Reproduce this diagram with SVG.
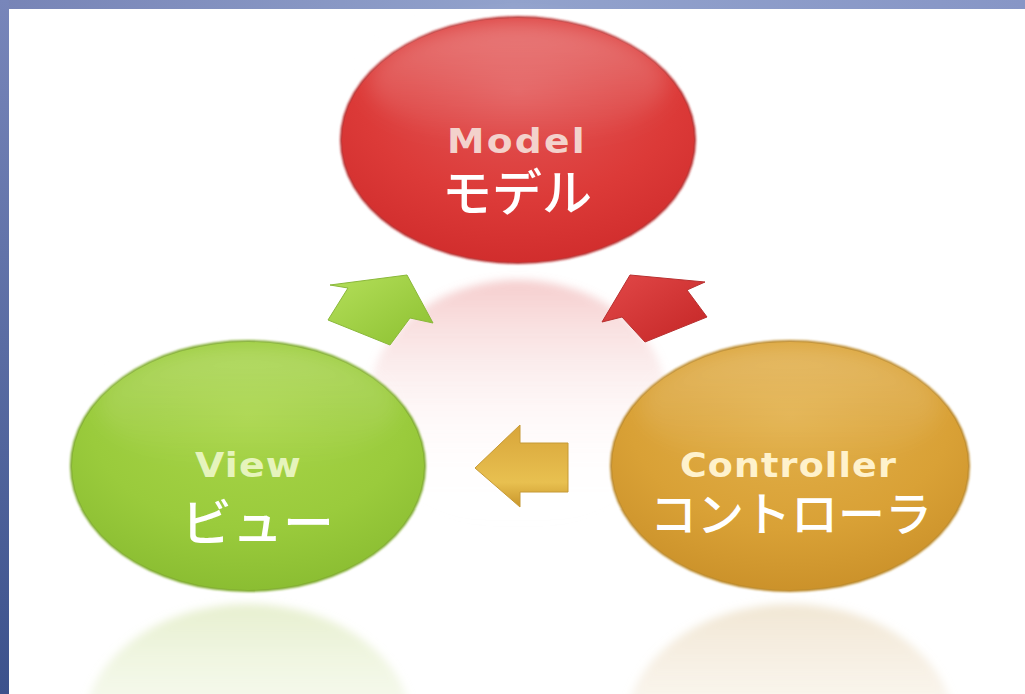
<svg xmlns="http://www.w3.org/2000/svg" width="1025" height="694" viewBox="0 0 1025 694">
<defs>
<linearGradient id="topband" x1="0" y1="0" x2="1" y2="0"><stop offset="0" stop-color="#7784b6"/><stop offset="0.5" stop-color="#92a2cc"/><stop offset="1" stop-color="#8796c6"/></linearGradient>
<linearGradient id="leftband" x1="0" y1="0" x2="0" y2="1"><stop offset="0" stop-color="#7886ba"/><stop offset="1" stop-color="#3c528c"/></linearGradient>
<radialGradient id="gRed" cx="0.5" cy="0.3" r="0.75"><stop offset="0" stop-color="#e25656"/><stop offset="0.6" stop-color="#dc3a38"/><stop offset="1" stop-color="#cf2b2b"/></radialGradient>
<linearGradient id="hl" x1="0" y1="0" x2="0" y2="1"><stop offset="0" stop-color="#ffffff" stop-opacity="0.28"/><stop offset="1" stop-color="#ffffff" stop-opacity="0"/></linearGradient>
<radialGradient id="gGreen" cx="0.5" cy="0.3" r="0.75"><stop offset="0" stop-color="#a8d548"/><stop offset="0.6" stop-color="#9acb3c"/><stop offset="1" stop-color="#88bb30"/></radialGradient>
<radialGradient id="gOrange" cx="0.5" cy="0.3" r="0.75"><stop offset="0" stop-color="#e2b04a"/><stop offset="0.6" stop-color="#d9a136"/><stop offset="1" stop-color="#c98f28"/></radialGradient>
<linearGradient id="rRed" x1="0" y1="0" x2="0" y2="1"><stop offset="0" stop-color="#e88a8a" stop-opacity="0.42"/><stop offset="0.6" stop-color="#f4c8c8" stop-opacity="0.08"/><stop offset="1" stop-color="#ffffff" stop-opacity="0"/></linearGradient>
<linearGradient id="rGreen" x1="0" y1="0" x2="0" y2="1"><stop offset="0" stop-color="#cfe0a0" stop-opacity="0.5"/><stop offset="0.7" stop-color="#eef4dc" stop-opacity="0.15"/><stop offset="1" stop-color="#ffffff" stop-opacity="0"/></linearGradient>
<linearGradient id="rOrange" x1="0" y1="0" x2="0" y2="1"><stop offset="0" stop-color="#e6d3b0" stop-opacity="0.55"/><stop offset="0.7" stop-color="#f4ebdc" stop-opacity="0.15"/><stop offset="1" stop-color="#ffffff" stop-opacity="0"/></linearGradient>
<linearGradient id="aGreen" x1="0" y1="0" x2="1" y2="1"><stop offset="0" stop-color="#b4df5a"/><stop offset="1" stop-color="#8cc030"/></linearGradient>
<linearGradient id="aRed" x1="0" y1="0" x2="1" y2="1"><stop offset="0" stop-color="#e24848"/><stop offset="1" stop-color="#c42626"/></linearGradient>
<linearGradient id="aOrange" x1="0" y1="0" x2="0" y2="1"><stop offset="0" stop-color="#d8a53a"/><stop offset="0.7" stop-color="#e8c050"/><stop offset="1" stop-color="#c9952a"/></linearGradient>
<filter id="soft" x="-10%" y="-10%" width="120%" height="120%"><feGaussianBlur stdDeviation="1.2"/></filter>
<filter id="blur6" x="-20%" y="-20%" width="140%" height="140%"><feGaussianBlur stdDeviation="4"/></filter>
<filter id="blur10" x="-20%" y="-40%" width="140%" height="180%"><feGaussianBlur stdDeviation="10"/></filter>
</defs>
<style>
.en{font-family:"DejaVu Sans","Verdana",sans-serif;font-weight:bold;font-size:33px}
.jp{font-family:"Noto Sans CJK JP","Noto Sans",sans-serif;fill:#ffffff;font-weight:500}
</style>
<rect x="0" y="0" width="1025" height="694" fill="#ffffff"/>
<rect x="0" y="0" width="1025" height="9" fill="url(#topband)"/>
<rect x="0" y="0" width="9" height="694" fill="url(#leftband)"/>

<g id="reflections" filter="url(#blur6)">
<ellipse cx="518" cy="404" rx="150" ry="124" fill="url(#rRed)"/>
<ellipse cx="248" cy="730" rx="165" ry="126" fill="url(#rGreen)"/>
<ellipse cx="790" cy="730" rx="165" ry="126" fill="url(#rOrange)"/>
</g>

<g id="model">
<ellipse cx="518" cy="140" rx="178" ry="124" fill="#b82a2a" filter="url(#soft)"/>
<ellipse cx="518" cy="140" rx="176" ry="122" fill="url(#gRed)"/>
<ellipse cx="518" cy="82" rx="150" ry="60" fill="url(#hl)" filter="url(#blur10)"/>
<text class="en" x="447" y="153" textLength="140" lengthAdjust="spacingAndGlyphs" letter-spacing="2" fill="#f3d2cc">Model</text>
<text class="jp" x="442" y="211" font-size="50" textLength="150" lengthAdjust="spacingAndGlyphs">モデル</text>
</g>

<g id="view">
<ellipse cx="248" cy="466" rx="178" ry="126" fill="#7aa828" filter="url(#soft)"/>
<ellipse cx="248" cy="466" rx="176" ry="124" fill="url(#gGreen)"/>
<ellipse cx="248" cy="406" rx="150" ry="60" fill="url(#hl)" filter="url(#blur10)" opacity="0.7"/>
<text class="en" x="195" y="477" textLength="107" lengthAdjust="spacingAndGlyphs" letter-spacing="1" fill="#e6f4bc">View</text>
<text class="jp" x="181" y="541" font-size="50" textLength="153" lengthAdjust="spacingAndGlyphs">ビュー</text>
</g>

<g id="controller">
<ellipse cx="790" cy="466" rx="180" ry="126" fill="#b98524" filter="url(#soft)"/>
<ellipse cx="790" cy="466" rx="178" ry="124" fill="url(#gOrange)"/>
<ellipse cx="790" cy="406" rx="150" ry="60" fill="url(#hl)" filter="url(#blur10)" opacity="0.7"/>
<text class="en" x="680" y="477" textLength="217" lengthAdjust="spacingAndGlyphs" letter-spacing="1" fill="#fff2cc">Controller</text>
<text class="jp" x="650" y="531" font-size="47" textLength="282" lengthAdjust="spacingAndGlyphs">コントローラ</text>
</g>

<g id="connectors">
<polygon points="407,275 433,323 410,318 390,345 328,320 348,288 330,285" fill="url(#aGreen)" stroke="#8ab83a" stroke-width="1" stroke-linejoin="round"/>
<polygon points="630,275 705,282 687,290 707,317 645,342 622,317 602,322" fill="url(#aRed)" stroke="#b83030" stroke-width="1" stroke-linejoin="round"/>
<polygon points="475,468 520,425 520,443 568,443 568,492 520,492 520,507" fill="url(#aOrange)" stroke="#c69a36" stroke-width="1" stroke-linejoin="round"/>
</g>
</svg>
